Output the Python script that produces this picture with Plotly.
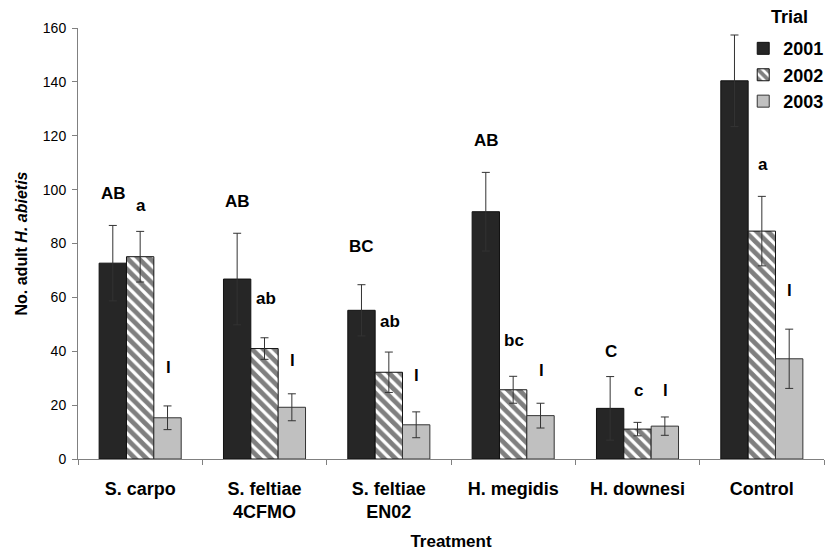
import plotly.graph_objects as go

# ---- data ----
treatments = ["S. carpo", "S. feltiae<br>4CFMO", "S. feltiae<br>EN02", "H. megidis", "H. downesi", "Control"]
trials = ["2001", "2002", "2003"]

mean_2001 = [72.7, 66.8, 55.2, 91.8, 18.8, 140.4]
mean_2002 = [75.1, 41.0, 32.2, 25.7, 11.1, 84.6]
mean_2003 = [15.3, 19.2, 12.7, 16.1, 12.2, 37.2]

se_2001 = [14.0, 17.0, 9.5, 14.6, 11.8, 17.0]
se_2002 = [9.4, 4.0, 7.5, 5.0, 2.5, 12.9]
se_2003 = [4.4, 5.0, 4.8, 4.6, 3.4, 11.0]

letters_2001 = ["AB", "AB", "BC", "AB", "C", "A"]
letters_2002 = ["a", "ab", "ab", "bc", "c", "a"]
letters_2003 = ["l", "l", "l", "l", "l", "l"]

# heights (data units) at which the significance letters sit
letter_y_2001 = [98.6, 95.5, 78.8, 118.4, 39.8, 163.6]
letter_y_2002 = [94.0, 59.7, 51.0, 44.0, 25.5, 109.5]
letter_y_2003 = [34.0, 36.7, 31.0, 33.0, 25.6, 62.7]

FONT = "Liberation Sans, Arial, sans-serif"

fig = go.Figure()

err_style = dict(type="data", visible=True, color="#333333", thickness=1, width=4)

fig.add_trace(go.Bar(
    name="<b>%s</b>" % trials[0], x=treatments, y=mean_2001,
    marker=dict(color="#262626", line=dict(color="#111111", width=1)),
    error_y=dict(array=se_2001, **err_style),
))
fig.add_trace(go.Bar(
    name="<b>%s</b>" % trials[1], x=treatments, y=mean_2002,
    marker=dict(color="white", line=dict(color="#111111", width=1),
                pattern=dict(shape="\\", fgcolor="#000000", bgcolor="white", size=8, solidity=0.6)),
    error_y=dict(array=se_2002, **err_style),
))
fig.add_trace(go.Bar(
    name="<b>%s</b>" % trials[2], x=treatments, y=mean_2003,
    marker=dict(color="#c0c0c0", line=dict(color="#333333", width=1)),
    error_y=dict(array=se_2003, **err_style),
))

# significance letters
for letters, ys, shift in [(letters_2001, letter_y_2001, -27),
                           (letters_2002, letter_y_2002, 1),
                           (letters_2003, letter_y_2003, 28)]:
    for cat, txt, yv in zip(treatments, letters, ys):
        fig.add_annotation(x=cat, y=yv, xref="x", yref="y", text="<b>%s</b>" % txt,
                           showarrow=False, xshift=shift, yanchor="middle",
                           font=dict(family=FONT, size=17, color="black"))

# legend heading
fig.add_annotation(x=1.0, y=1.0, xref="paper", yref="paper", yshift=11,
                   text="<b>Trial</b>", showarrow=False, xanchor="right", xshift=-14,
                   yanchor="middle", font=dict(family=FONT, size=18, color="black"))

fig.update_layout(
    width=827, height=552,
    margin=dict(l=78, r=3, t=28, b=93, autoexpand=False),
    paper_bgcolor="white", plot_bgcolor="white",
    barmode="group", bargap=0.34, bargroupgap=0,
    font=dict(family=FONT, color="black"),
    showlegend=True,
    legend=dict(
        x=1.007, xanchor="right", y=0.995, yanchor="top",
        font=dict(family=FONT, size=18, color="black"),
        bgcolor="rgba(0,0,0,0)", tracegroupgap=0,
    ),
)

fig.update_xaxes(
    showline=True, linecolor="#808080", linewidth=1,
    ticks="outside", tickson="boundaries", ticklen=5, tickcolor="#808080",
    tickfont=dict(family=FONT, size=18, color="black"),
    tickprefix="<b>", ticksuffix="</b>", ticklabelstandoff=13,
    title=dict(text="<b>Treatment</b>", font=dict(family=FONT, size=17, color="black"), standoff=14),
    showgrid=False, automargin=False,
)
fig.update_yaxes(
    range=[0, 160], dtick=20, tick0=0,
    showline=True, linecolor="#808080", linewidth=1,
    ticks="outside", ticklen=5, tickcolor="#808080",
    tickfont=dict(family=FONT, size=14, color="black"), ticklabelstandoff=3,
    title=dict(text="<b>No. adult <i>H. abietis</i></b>", font=dict(family=FONT, size=16, color="black"), standoff=11),
    showgrid=False, zeroline=False, automargin=False,
)

fig.write_html("out.html")
